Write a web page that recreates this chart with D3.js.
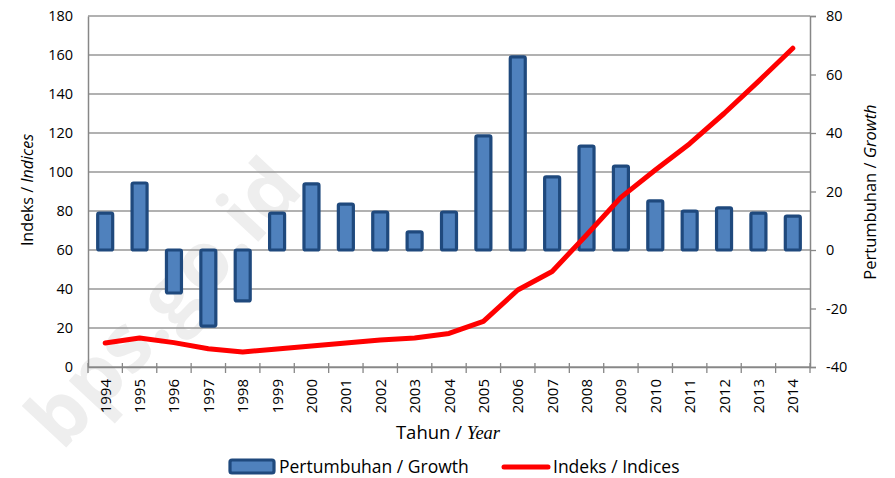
<!DOCTYPE html>
<html>
<head>
<meta charset="utf-8">
<script src="https://cdn.jsdelivr.net/npm/d3@7"></script>
<style>
  body { margin: 0; background: #fff; }
  svg text { font-family: "Open Sans", sans-serif; fill: #000; }
</style>
</head>
<body>
<div id="chart"></div>
<script>
const years = ['1994', '1995', '1996', '1997', '1998', '1999', '2000', '2001', '2002', '2003', '2004',
  '2005', '2006', '2007', '2008', '2009', '2010', '2011', '2012', '2013', '2014'];
const growth = [12.6, 22.9, -14.7, -26.0, -17.4, 12.6, 22.6, 15.7, 13.0, 6.2, 13.0,
  39.0, 66.0, 25.0, 35.5, 28.7, 16.8, 13.3, 14.4, 12.6, 11.6];
const indices = [12.3, 14.9, 12.5, 9.4, 7.7, 9.2, 10.8, 12.3, 13.8, 14.9, 17.2,
  23.4, 39.5, 49.0, 67.7, 87.0, 101.0, 114.5, 130.0, 146.5, 163.5];
const leftTicks = [0, 20, 40, 60, 80, 100, 120, 140, 160, 180];
const rightTicks = [-40, -20, 0, 20, 40, 60, 80];

const width = 895;
const height = 478;
const margins = { top: 16, right: 85, bottom: 111, left: 88 };
const plotW = width - margins.left - margins.right;
const plotH = height - margins.top - margins.bottom;

const svg = d3.select('#chart')
  .append('svg')
  .attr('width', width)
  .attr('height', height);

// faint watermark
svg.append('text')
  .attr('transform', 'translate(62,452) rotate(-47)')
  .style('font-size', '80px')
  .style('font-weight', 'bold')
  .style('fill', '#eeeeee')
  .text('bps.go.id');

const g = svg.append('g')
  .attr('transform', 'translate(' + margins.left + ',' + margins.top + ')');

const x = d3.scaleBand().domain(years).range([0, plotW]);
const yLeft = d3.scaleLinear().domain([0, 180]).range([plotH, 0]);
const yRight = d3.scaleLinear().domain([-40, 80]).range([plotH, 0]);

/* gridlines */
g.selectAll('.grid')
  .data(leftTicks)
  .enter()
  .append('line')
  .attr('x1', 0)
  .attr('x2', plotW)
  .attr('y1', d => yLeft(d))
  .attr('y2', d => yLeft(d))
  .style('stroke', '#979797')
  .style('stroke-width', 1.3);

/* axes */
const styleAxis = sel => {
  sel.select('.domain').style('stroke', '#878787').style('stroke-width', 1.5);
  sel.selectAll('.tick line').style('stroke', '#878787').style('stroke-width', 1.3);
  sel.selectAll('.tick text').style('font-size', '14.5px').style('font-family', '"Open Sans", sans-serif');
};

g.append('g')
  .call(d3.axisLeft(yLeft).tickValues(leftTicks).tickSize(0).tickPadding(15))
  .call(styleAxis);

g.append('g')
  .attr('transform', 'translate(' + plotW + ',0)')
  .call(d3.axisRight(yRight).tickValues(rightTicks).tickFormat(d => String(d))
    .tickSizeInner(6).tickSizeOuter(6).tickPadding(10))
  .call(styleAxis);

const xAxis = g.append('g')
  .attr('transform', 'translate(0,' + plotH + ')')
  .call(d3.axisBottom(x).tickSize(0).tickFormat(''))
  .call(styleAxis);

// category boundary ticks
xAxis.selectAll('.bound')
  .data(d3.range(years.length + 1))
  .enter()
  .append('line')
  .attr('x1', i => i * x.step())
  .attr('x2', i => i * x.step())
  .attr('y1', -4)
  .attr('y2', 6)
  .style('stroke', '#878787')
  .style('stroke-width', 1.3);

xAxis.selectAll('.ylab')
  .data(years)
  .enter()
  .append('text')
  .attr('transform', d => 'translate(' + (x(d) + x.bandwidth() / 2 + 5.5) + ',12) rotate(-90)')
  .attr('text-anchor', 'end')
  .style('font-size', '15px')
  .text(d => d);

/* bars: growth on right axis */
const barW = 15;
g.selectAll('.bar')
  .data(years)
  .enter()
  .append('rect')
  .attr('x', (d, i) => x(d) + x.bandwidth() / 2 - barW / 2)
  .attr('y', (d, i) => yRight(Math.max(0, growth[i])))
  .attr('width', barW)
  .attr('height', (d, i) => Math.abs(yRight(growth[i]) - yRight(0)))
  .attr('rx', 1.5)
  .style('fill', '#4f81bd')
  .style('stroke', '#1f497d')
  .style('stroke-width', 3.2);

/* index line on left axis */
const line = d3.line()
  .x((d, i) => x(years[i]) + x.bandwidth() / 2)
  .y(d => yLeft(d));

g.append('path')
  .datum(indices)
  .attr('d', line)
  .style('fill', 'none')
  .style('stroke', '#ff0000')
  .style('stroke-width', 5)
  .style('stroke-linejoin', 'round')
  .style('stroke-linecap', 'round');

/* axis titles */
const leftTitle = svg.append('text')
  .attr('transform', 'translate(33,190) rotate(-90)')
  .attr('text-anchor', 'middle')
  .style('font-size', '16px');
leftTitle.append('tspan').text('Indeks / ');
leftTitle.append('tspan').style('font-style', 'italic').text('Indices');

const rightTitle = svg.append('text')
  .attr('transform', 'translate(876,192) rotate(-90)')
  .attr('text-anchor', 'middle')
  .style('font-size', '16.5px');
rightTitle.append('tspan').text('Pertumbuhan / ');
rightTitle.append('tspan').style('font-style', 'italic').text('Growth');

const xTitle = svg.append('text')
  .attr('x', 448)
  .attr('y', 439)
  .attr('text-anchor', 'middle')
  .style('font-size', '18.5px');
xTitle.append('tspan').text('Tahun / ');
xTitle.append('tspan')
  .style('font-family', '"Liberation Serif", "Times New Roman", serif')
  .style('font-style', 'italic')
  .text('Year');

/* legend */
const legend = svg.append('g');
legend.append('rect')
  .attr('x', 230).attr('y', 460)
  .attr('width', 44).attr('height', 13)
  .attr('rx', 2)
  .style('fill', '#4f81bd')
  .style('stroke', '#1f497d')
  .style('stroke-width', 3.2);
legend.append('text')
  .attr('x', 279).attr('y', 473)
  .style('font-size', '17.5px')
  .text('Pertumbuhan / Growth');
legend.append('line')
  .attr('x1', 504).attr('x2', 548)
  .attr('y1', 467).attr('y2', 467)
  .style('stroke', '#ff0000')
  .style('stroke-width', 5)
  .style('stroke-linecap', 'round');
legend.append('text')
  .attr('x', 553).attr('y', 473)
  .style('font-size', '17.5px')
  .text('Indeks / Indices');
</script>
</body>
</html>
